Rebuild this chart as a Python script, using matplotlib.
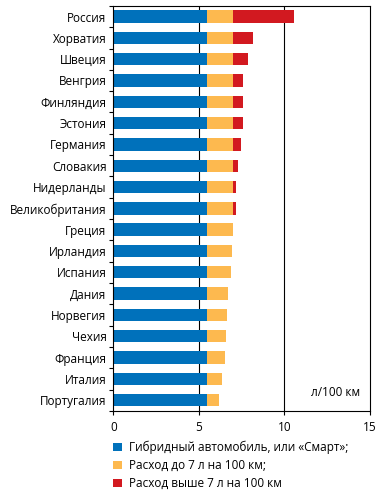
import matplotlib
matplotlib.use("Agg")
import matplotlib.pyplot as plt
import numpy as np

plt.rcParams['font.family'] = ['Open Sans', 'DejaVu Sans']

c_blue = "#0071BB"
c_orange = "#FDB94F"
c_red = "#D21920"

countries = ['Россия', 'Хорватия', 'Швеция', 'Венгрия', 'Финляндия', 'Эстония',
             'Германия', 'Словакия', 'Нидерланды', 'Великобритания', 'Греция',
             'Ирландия', 'Испания', 'Дания', 'Норвегия', 'Чехия', 'Франция',
             'Италия', 'Португалия']
hybrid = [5.5] * 19
# total consumption (л/100 км)
total = [10.55, 8.15, 7.85, 7.6, 7.6, 7.6, 7.45, 7.3, 7.2, 7.15, 7.0,
         6.95, 6.9, 6.7, 6.65, 6.6, 6.5, 6.35, 6.2]
legend_labels = ['Гибридный автомобиль, или «Смарт»;',
                 'Расход до 7 л на 100 км;',
                 'Расход выше 7 л на 100 км']

hybrid = np.array(hybrid)
total = np.array(total)
upto7 = np.minimum(total, 7.0) - hybrid
above7 = np.clip(total - 7.0, 0, None)

fig = plt.figure(figsize=(3.79, 4.92), dpi=100)
ax = fig.add_axes([0.299, 0.165, 0.677, 0.823])

y = np.arange(len(countries))
h = 0.58
ax.axvline(5, color='black', lw=0.8, zorder=1)
ax.axvline(10, color='black', lw=0.8, zorder=1)
b1 = ax.barh(y, hybrid, height=h, color=c_blue, zorder=2)
b2 = ax.barh(y, upto7, left=hybrid, height=h, color=c_orange, zorder=2)
b3 = ax.barh(y, above7, left=hybrid + upto7, height=h, color=c_red, zorder=2)

ax.set_xlim(0, 15)
ax.set_ylim(len(countries) - 0.5, -0.5)
ax.set_xticks([0, 5, 10, 15])
ax.set_yticks(y)
ax.set_yticklabels(countries)
ax.tick_params(axis='y', length=0, labelsize=8.5, pad=5)
ax.set_yticks(np.arange(-0.5, len(countries)), minor=True)
ax.tick_params(axis='y', which='minor', length=3, width=0.8)
ax.tick_params(axis='x', length=3, width=0.8, labelsize=8.5, pad=4)
for s in ax.spines.values():
    s.set_linewidth(0.8)

ax.text(0.96, 0.045, 'л/100 км', transform=ax.transAxes, ha='right', va='center', fontsize=8.5)

fig.legend([b1, b2, b3], legend_labels, loc='upper left', bbox_to_anchor=(0.298, 0.104),
           frameon=False, fontsize=8.5, handlelength=0.75, handleheight=0.75,
           handletextpad=0.6, labelspacing=0.42, borderaxespad=0, borderpad=0)

fig.savefig("out.png", dpi=100)
